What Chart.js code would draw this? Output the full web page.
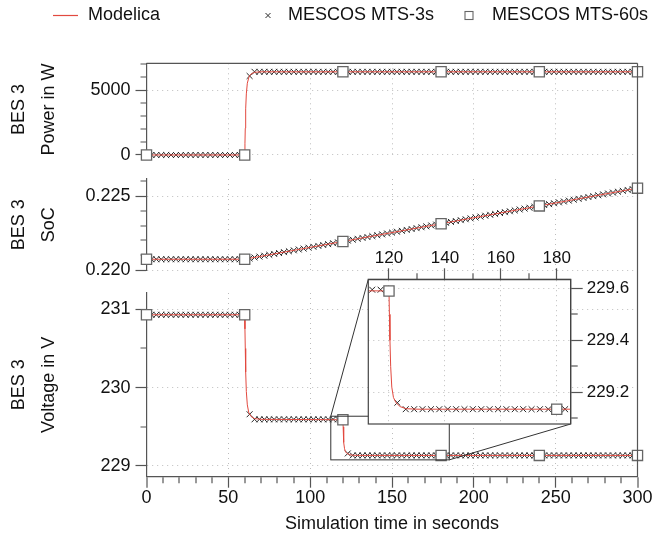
<!DOCTYPE html>
<html>
<head>
<meta charset="utf-8">
<script src="https://cdn.jsdelivr.net/npm/chart.js@4.4.1/dist/chart.umd.min.js"></script>
<style>
html, body { margin: 0; padding: 0; background: #fff; }
#wrap { position: relative; width: 656px; height: 540px; }
#wrap canvas { position: absolute; left: 0; top: 0; }
</style>
</head>
<body>
<div id="wrap">
<canvas id="power" width="656" height="540"></canvas>
<canvas id="soc" width="656" height="540"></canvas>
<canvas id="voltage" width="656" height="540"></canvas>
<canvas id="zoom" width="656" height="540"></canvas>
</div>
<script>
// sample times of the 3 s and 60 s co-simulation
var t3 = [0, 3, 6, 9, 12, 15, 18, 21, 24, 27, 30, 33, 36, 39, 42, 45, 48, 51, 54, 57, 60,
  63, 66, 69, 72, 75, 78, 81, 84, 87, 90, 93, 96, 99, 102, 105, 108, 111, 114, 117, 120,
  123, 126, 129, 132, 135, 138, 141, 144, 147, 150, 153, 156, 159, 162, 165, 168, 171, 174, 177, 180,
  183, 186, 189, 192, 195, 198, 201, 204, 207, 210, 213, 216, 219, 222, 225, 228, 231, 234, 237, 240,
  243, 246, 249, 252, 255, 258, 261, 264, 267, 270, 273, 276, 279, 282, 285, 288, 291, 294, 297, 300];
var t60 = [0, 60, 120, 180, 240, 300];

// power in W
var power3 = [0, 0, 0, 0, 0, 0, 0, 0, 0, 0, 0, 0, 0, 0, 0, 0, 0, 0, 0, 0, 0,
  6080, 6400, 6400, 6400, 6400, 6400, 6400, 6400, 6400, 6400, 6400, 6400, 6400, 6400, 6400, 6400, 6400, 6400, 6400, 6400,
  6400, 6400, 6400, 6400, 6400, 6400, 6400, 6400, 6400, 6400, 6400, 6400, 6400, 6400, 6400, 6400, 6400, 6400, 6400, 6400,
  6400, 6400, 6400, 6400, 6400, 6400, 6400, 6400, 6400, 6400, 6400, 6400, 6400, 6400, 6400, 6400, 6400, 6400, 6400, 6400,
  6400, 6400, 6400, 6400, 6400, 6400, 6400, 6400, 6400, 6400, 6400, 6400, 6400, 6400, 6400, 6400, 6400, 6400, 6400, 6400];
var power60 = [0, 0, 6400, 6400, 6400, 6400];
var tPowerModelica = [0, 60, 60.15, 60.35, 60.6, 61, 61.6, 62.5, 63, 64, 66, 70, 300];
var powerModelica = [0, 0, 860, 2060, 3550, 4700, 5520, 5950, 6100, 6240, 6360, 6400, 6400];
var powerTicks = [0, 1000, 2000, 3000, 4000, 5000, 6000, 7000];

// state of charge
var soc3 = [0.22073, 0.22073, 0.22073, 0.22073, 0.22073, 0.22073, 0.22073, 0.22073, 0.22073, 0.22073, 0.22073,
  0.22073, 0.22073, 0.22073, 0.22073, 0.22073, 0.22073, 0.22073, 0.22073, 0.22073, 0.22073,
  0.22079, 0.22085, 0.22091, 0.22097, 0.22103, 0.22109, 0.22115, 0.22121, 0.22127, 0.22133,
  0.22139, 0.22145, 0.22151, 0.22157, 0.22163, 0.22169, 0.22175, 0.22181, 0.22187, 0.22193,
  0.22199, 0.22205, 0.22211, 0.22217, 0.22223, 0.22229, 0.22235, 0.22241, 0.22247, 0.22253,
  0.22259, 0.22265, 0.22271, 0.22277, 0.22283, 0.22289, 0.22295, 0.22301, 0.22307, 0.22313,
  0.22319, 0.22325, 0.22331, 0.22337, 0.22343, 0.22349, 0.22355, 0.22361, 0.22367, 0.22373,
  0.22379, 0.22385, 0.22391, 0.22397, 0.22403, 0.22409, 0.22415, 0.22421, 0.22427, 0.22433,
  0.22439, 0.22445, 0.22451, 0.22457, 0.22463, 0.22469, 0.22475, 0.22481, 0.22487, 0.22493,
  0.22499, 0.22505, 0.22511, 0.22517, 0.22523, 0.22529, 0.22535, 0.22541, 0.22547, 0.22553];
var soc60 = [0.22073, 0.22073, 0.22193, 0.22313, 0.22433, 0.22553];
var tSocModelica = [0, 60, 300];
var socModelica = [0.22073, 0.22073, 0.22553];

// voltage in V
var volt3 = [230.93, 230.93, 230.93, 230.93, 230.93, 230.93, 230.93, 230.93, 230.93, 230.93, 230.93,
  230.93, 230.93, 230.93, 230.93, 230.93, 230.93, 230.93, 230.93, 230.93, 230.93,
  229.66, 229.595, 229.595, 229.595, 229.595, 229.595, 229.595, 229.595, 229.595, 229.595,
  229.595, 229.595, 229.595, 229.595, 229.595, 229.595, 229.595, 229.595, 229.595, 229.59,
  229.16, 229.135, 229.135, 229.135, 229.135, 229.135, 229.135, 229.135, 229.135, 229.135,
  229.135, 229.135, 229.135, 229.135, 229.135, 229.135, 229.135, 229.135, 229.135, 229.135,
  229.135, 229.135, 229.135, 229.135, 229.135, 229.135, 229.135, 229.135, 229.135, 229.135,
  229.135, 229.135, 229.135, 229.135, 229.135, 229.135, 229.135, 229.135, 229.135, 229.135,
  229.135, 229.135, 229.135, 229.135, 229.135, 229.135, 229.135, 229.135, 229.135, 229.135,
  229.135, 229.135, 229.135, 229.135, 229.135, 229.135, 229.135, 229.135, 229.135, 229.135];
var volt60 = [230.93, 230.93, 229.59, 229.135, 229.135, 229.135];
var tVoltModelica = [0, 60, 60.15, 60.35, 60.6, 61, 61.6, 62.5, 64, 66, 70, 120,
  120.15, 120.35, 120.6, 121, 121.6, 122.5, 124, 126, 130, 300];
var voltModelica = [230.93, 230.93, 230.75, 230.5, 230.2, 229.95, 229.78, 229.68, 229.63, 229.605, 229.595, 229.59,
  229.5, 229.4, 229.3, 229.22, 229.18, 229.16, 229.145, 229.137, 229.135, 229.135];

// zoom window of the inset
var zoomX = [112.6, 185];
var zoomY = [229.078, 229.635];

Chart.defaults.font.family = '"Liberation Sans", Arial, Helvetica, sans-serif';
Chart.defaults.font.size = 18;
Chart.defaults.color = '#111';
Chart.defaults.animation = false;
Chart.defaults.events = [];
Chart.defaults.plugins.legend.display = false;
Chart.defaults.plugins.tooltip.enabled = false;

var AXIS = '#555';
var GRID = '#bdbdbd';
var RED = '#e2493f';

function pts(xs, ys) {
  return xs.map(function (x, i) { return {x: x, y: ys[i]}; });
}

function isMult(v, step) {
  var r = v / step;
  return Math.abs(r - Math.round(r)) < 1e-6;
}

// major ticks long, minor ticks cut short with a dash pattern
function tickGrid(isMajor, showLine, len, minorLen, outerFirst) {
  return {
    color: GRID,
    lineWidth: function (c) { return (c.tick && showLine(c.tick.value)) ? 1 : 0; },
    tickLength: len,
    tickColor: AXIS,
    tickWidth: 1.2,
    tickBorderDash: function (c) {
      if (!c.tick || isMajor(c.tick.value)) return [];
      return outerFirst ? [0, len - minorLen, minorLen, 100] : [minorLen, 100];
    }
  };
}

function seriesSets(tm, ym, y3, y60, clip) {
  return [
    {label: 'Modelica', data: pts(tm, ym), showLine: true, borderColor: RED, borderWidth: 1,
      pointRadius: 0, order: 1, clip: clip},
    {label: 'MESCOS MTS-3s', data: pts(t3, y3), pointStyle: 'crossRot', pointRadius: 4.2,
      borderColor: '#2a2a2a', pointBorderWidth: 1, order: 2, clip: clip},
    {label: 'MESCOS MTS-60s', data: pts(t60, y60), pointStyle: 'rect', pointRadius: 7.2,
      backgroundColor: '#fff', borderColor: '#666', pointBorderWidth: 1.3, order: 0, clip: clip}
  ];
}

function yScale(p) {
  var s = {
    min: p.min, max: p.max,
    afterFit: function (sc) { sc.width = 146.5; },
    border: {color: AXIS, width: 1.2, dash: [1, 4]},
    grid: tickGrid(function (v) { return isMult(v, p.major); }, function (v) { return isMult(v, p.major); }, 11, 6, true),
    ticks: {stepSize: p.minor, maxTicksLimit: 1000, autoSkip: false, includeBounds: false, padding: 5,
      callback: function (v) { return isMult(v, p.major) ? p.fmt(v) : ''; }},
    title: {display: true, text: p.title, font: {size: 18, lineHeight: 1.667}, padding: {top: 4.5, bottom: 0}}
  };
  if (p.list) {
    s.afterBuildTicks = function (sc) { sc.ticks = p.list.map(function (v) { return {value: v}; }); };
  }
  return s;
}

function hiddenX() {
  return {
    min: 0, max: 300,
    afterFit: function (s) { s.height = 0; },
    border: {display: false, dash: [1, 4]},
    grid: {color: GRID, drawTicks: false,
      lineWidth: function (c) { return (c.tick && c.tick.value > 0 && c.tick.value < 300) ? 1 : 0; }},
    ticks: {display: false, stepSize: 50, maxTicksLimit: 1000}
  };
}

var topLegend = {
  id: 'topLegend',
  afterDraw: function (chart) {
    var ctx = chart.ctx, ds = chart.data.datasets, y = 15.5, a = chart.chartArea;
    ctx.save();
    // frame on top of the first panel
    ctx.strokeStyle = AXIS; ctx.lineWidth = 1.2;
    ctx.beginPath(); ctx.moveTo(a.left, a.top); ctx.lineTo(a.right, a.top); ctx.stroke();
    ctx.font = '18px "Liberation Sans", Arial, sans-serif';
    ctx.fillStyle = '#111';
    ctx.textBaseline = 'middle';
    ctx.strokeStyle = ds[0].borderColor; ctx.lineWidth = 1.2;
    ctx.beginPath(); ctx.moveTo(53, y); ctx.lineTo(78, y); ctx.stroke();
    ctx.fillText(ds[0].label, 88, y);
    ctx.strokeStyle = ds[1].borderColor; ctx.lineWidth = 1;
    ctx.beginPath();
    ctx.moveTo(265.5, y - 2.5); ctx.lineTo(270.5, y + 2.5);
    ctx.moveTo(265.5, y + 2.5); ctx.lineTo(270.5, y - 2.5);
    ctx.stroke();
    ctx.fillText(ds[1].label, 288, y);
    ctx.strokeStyle = ds[2].borderColor; ctx.lineWidth = 1.1;
    ctx.strokeRect(465, y - 4, 8, 8);
    ctx.fillText(ds[2].label, 492, y);
    ctx.restore();
  }
};

var powerChart = new Chart(document.getElementById('power'), {
  type: 'scatter',
  data: {datasets: seriesSets(tPowerModelica, powerModelica, power3, power60, false)},
  options: {
    responsive: false, devicePixelRatio: 1,
    layout: {padding: {left: 0, right: 18.5, top: 63.3, bottom: 384.5}},
    scales: {
      x: hiddenX(),
      y: yScale({min: -40, max: 7055, minor: 1000, major: 5000, list: powerTicks, title: ['BES 3', 'Power in W'],
        fmt: function (v) { return String(v); }})
    }
  },
  plugins: [topLegend]
});

var socChart = new Chart(document.getElementById('soc'), {
  type: 'scatter',
  data: {datasets: seriesSets(tSocModelica, socModelica, soc3, soc60, false)},
  options: {
    responsive: false, devicePixelRatio: 1,
    layout: {padding: {left: 0, right: 18.5, top: 179, bottom: 269.5}},
    scales: {
      x: hiddenX(),
      y: yScale({min: 0.21997, max: 0.226148, minor: 0.001, major: 0.005, title: ['BES 3', 'SoC'],
        fmt: function (v) { return v.toFixed(3); }})
    }
  }
});

var rightFrame = {
  id: 'rightFrame',
  afterDraw: function (chart) {
    var ctx = chart.ctx, a = chart.chartArea;
    ctx.save();
    ctx.strokeStyle = AXIS; ctx.lineWidth = 1.2;
    ctx.beginPath(); ctx.moveTo(a.right, powerChart.chartArea.top); ctx.lineTo(a.right, a.bottom); ctx.stroke();
    ctx.restore();
  }
};

var voltageChart = new Chart(document.getElementById('voltage'), {
  type: 'scatter',
  data: {datasets: seriesSets(tVoltModelica, voltModelica, volt3, volt60, false)},
  options: {
    responsive: false, devicePixelRatio: 1,
    layout: {padding: {left: 0, right: 18.5, top: 293, bottom: 0}},
    scales: {
      x: {
        min: 0, max: 300,
        afterFit: function (s) { s.height = 63.3; },
        border: {color: AXIS, width: 1.2, dash: [1, 4]},
        grid: tickGrid(function (v) { return isMult(v, 50); },
          function (v) { return isMult(v, 50) && v > 0 && v < 300; }, 11, 6, false),
        ticks: {stepSize: 10, maxTicksLimit: 1000, autoSkip: false, includeBounds: false, maxRotation: 0, padding: 0,
          callback: function (v) { return isMult(v, 50) ? String(v) : ''; }},
        title: {display: true, text: 'Simulation time in seconds', font: {size: 18}, padding: {top: 0, bottom: 5}}
      },
      y: yScale({min: 228.863, max: 231.208, minor: 0.5, major: 1, title: ['BES 3', 'Voltage in V'],
        fmt: function (v) { return String(v); }})
    }
  },
  plugins: [rightFrame]
});

// inset: zoom box in the voltage panel, connectors, white background
var zoomFrame = {
  id: 'zoomFrame',
  beforeDraw: function (chart) {
    var ctx = chart.ctx, a = chart.chartArea;
    var sx = voltageChart.scales.x, sy = voltageChart.scales.y;
    var l = sx.getPixelForValue(zoomX[0]), r = sx.getPixelForValue(zoomX[1]);
    var t = sy.getPixelForValue(zoomY[1]), b = sy.getPixelForValue(zoomY[0]);
    ctx.save();
    ctx.strokeStyle = '#333'; ctx.lineWidth = 1;
    ctx.strokeRect(l, t, r - l, b - t);
    ctx.beginPath();
    ctx.moveTo(l, t); ctx.lineTo(a.left, a.top);
    ctx.moveTo(r, b); ctx.lineTo(a.right, a.bottom);
    ctx.stroke();
    ctx.fillStyle = '#fff';
    ctx.fillRect(a.left, a.top, a.right - a.left, a.bottom - a.top);
    ctx.restore();
  },
  afterDraw: function (chart) {
    var ctx = chart.ctx, a = chart.chartArea;
    ctx.save();
    ctx.strokeStyle = '#444'; ctx.lineWidth = 1.2;
    ctx.strokeRect(a.left, a.top, a.right - a.left, a.bottom - a.top);
    ctx.restore();
  }
};

var zoomChart = new Chart(document.getElementById('zoom'), {
  type: 'scatter',
  data: {datasets: seriesSets(tVoltModelica, voltModelica, volt3, volt60, 0)},
  options: {
    responsive: false, devicePixelRatio: 1,
    layout: {padding: {left: 368.3, right: 15.3, top: 249.3, bottom: 116}},
    scales: {
      x: {
        position: 'top', min: zoomX[0], max: zoomX[1],
        afterFit: function (s) { s.height = 30; },
        border: {color: '#444', width: 1.2, dash: [1, 4]},
        grid: tickGrid(function (v) { return isMult(v, 20); }, function (v) { return isMult(v, 20); }, 11, 6, true),
        ticks: {stepSize: 10, maxTicksLimit: 1000, autoSkip: false, includeBounds: false, maxRotation: 0, padding: 0,
          font: {size: 17}, callback: function (v) { return isMult(v, 20) ? String(v) : ''; }}
      },
      y: {
        position: 'right', min: zoomY[0], max: zoomY[1],
        afterFit: function (s) { s.width = 70; },
        border: {color: '#444', width: 1.2, dash: [1, 4]},
        grid: tickGrid(function (v) { return isMult(v, 0.2); }, function (v) { return isMult(v, 0.2); }, 12, 6.5, false),
        ticks: {stepSize: 0.1, maxTicksLimit: 1000, autoSkip: false, includeBounds: false, padding: 4,
          font: {size: 17}, callback: function (v) { return isMult(v, 0.2) ? v.toFixed(1) : ''; }}
      }
    }
  },
  plugins: [zoomFrame]
});
</script>
</body>
</html>
